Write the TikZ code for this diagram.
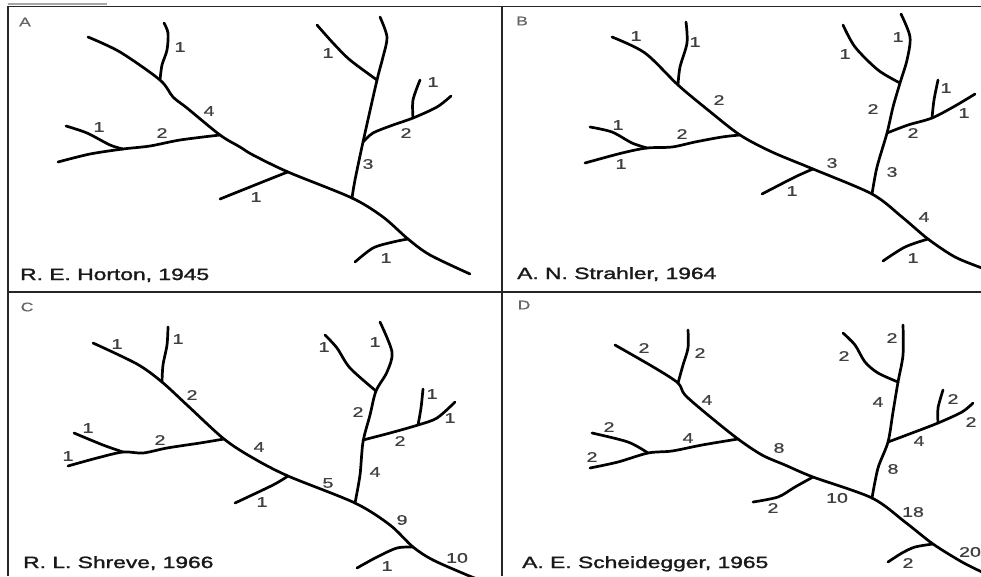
\documentclass[tikz,border=0pt]{standalone}
\usepackage{fontspec}
\setmainfont{Liberation Sans}
\newfontfamily\labfont[FakeBold=0.8]{Liberation Sans}
\newfontfamily\capfont[FakeBold=1.4]{Liberation Sans}
\usepackage{graphicx}
\newcommand\St[1]{\scalebox{1.4}[1]{#1}}
\begin{document}
\begin{tikzpicture}[x=1pt,y=-1pt,
  riv/.style={line width=2.7pt, line cap=round, line join=round, black},
  frm/.style={line width=1.4pt, black!85},
  lab/.style={inner sep=0pt, text=black!75, font=\labfont\fontsize{14}{14}\selectfont},
  capt/.style={inner sep=0pt, anchor=base west, text=black!90, font=\capfont\fontsize{16.3}{16.3}\selectfont},
  pan/.style={inner sep=0pt, text=black!60, font=\labfont\fontsize{12.5}{12.5}\selectfont}]
\useasboundingbox (0,0) rectangle (981,576);
\clip (0,0) rectangle (981,576);
% frame
\draw[black!35, line width=1.2pt] (8,4) -- (107,4);
\draw[frm] (8,576) -- (8,6.5) -- (981,6.5);
\draw[frm] (502,6.5) -- (502,576);
\draw[frm] (8,292) -- (981,292);
% ---------- Panel A ----------
\draw[riv] plot[smooth] coordinates {(88,37)(120,52)(160,80)(173,97)(187,108)(220,135)(240,147)(253,155)(288,172)(352,198)(383,217)(408,239)(430,255)(470,274)};
\draw[riv] plot[smooth] coordinates {(160,80)(162,65)(167,50)(168,33)(164,23)};
\draw[riv] plot[smooth] coordinates {(220,135)(180,140)(150,146)(123,149)(90,154)(58,162)};
\draw[riv] plot[smooth] coordinates {(123,149)(110,145)(87,133)(66,126)};
\draw[riv] plot[smooth] coordinates {(288,172)(280,175)(220,199)};
\draw[riv] plot[smooth] coordinates {(352,198)(355,180)(363,142)(377,80)(383,57)(387,37)(380,17)};
\draw[riv] plot[smooth] coordinates {(377,80)(350,60)(333,43)(317,25)};
\draw[riv] plot[smooth] coordinates {(363,142)(373,133)(393,125)(413,118)(437,107)(451,96)};
\draw[riv] plot[smooth] coordinates {(413,118)(413,100)(420,80)};
\draw[riv] plot[smooth] coordinates {(408,239)(393,242)(373,248)(355,262)};
\node[pan] (pA) at (25,22) {\St{A}};
\node[lab] (a1) at (180,47) {\St{1}};
\node[lab] (a2) at (209,111) {\St{4}};
\node[lab] (a3) at (99,127) {\St{1}};
\node[lab] (a4) at (162,133) {\St{2}};
\node[lab] (a5) at (256,197) {\St{1}};
\node[lab] (a6) at (328,53) {\St{1}};
\node[lab] (a7) at (433,82) {\St{1}};
\node[lab] (a8) at (406,133) {\St{2}};
\node[lab] (a9) at (368,164) {\St{3}};
\node[lab] (a10) at (386,258) {\St{1}};
\node[capt] (cA) at (20,280) {\St{R. E. Horton, 1945}};
% ---------- Panel B ----------
\draw[riv] plot[smooth] coordinates {(612,37)(645,53)(678,85)(708,110)(740,135)(772,152)(813,169)(872,194)(902,217)(928,239)(955,257)(982,268)};
\draw[riv] plot[smooth] coordinates {(678,85)(680,67)(687,43)(686,22)};
\draw[riv] plot[smooth] coordinates {(740,135)(722,137)(695,142)(672,147)(647,148)(622,153)(585,163)};
\draw[riv] plot[smooth] coordinates {(647,148)(632,143)(612,132)(590,127)};
\draw[riv] plot[smooth] coordinates {(813,169)(795,177)(762,194)};
\draw[riv] plot[smooth] coordinates {(872,194)(877,167)(887,133)(893,107)(900,83)(907,60)(910,37)(901,14)};
\draw[riv] plot[smooth] coordinates {(900,83)(878,70)(855,47)(843,25)};
\draw[riv] plot[smooth] coordinates {(887,133)(908,125)(932,118)(955,106)(975,94)};
\draw[riv] plot[smooth] coordinates {(932,118)(934,100)(938,80)};
\draw[riv] plot[smooth] coordinates {(928,239)(905,247)(883,261)};
\node[pan] (pB) at (522,21) {\St{B}};
\node[lab] (b1) at (636,36) {\St{1}};
\node[lab] (b2) at (695,42) {\St{1}};
\node[lab] (b3) at (719,100) {\St{2}};
\node[lab] (b4) at (618,125) {\St{1}};
\node[lab] (b5) at (682,134) {\St{2}};
\node[lab] (b6) at (621,164) {\St{1}};
\node[lab] (b7) at (832,163) {\St{3}};
\node[lab] (b8) at (792,191) {\St{1}};
\node[lab] (b9) at (845,54) {\St{1}};
\node[lab] (b10) at (898,37) {\St{1}};
\node[lab] (b11) at (873,109) {\St{2}};
\node[lab] (b12) at (946,88) {\St{1}};
\node[lab] (b13) at (964,113) {\St{1}};
\node[lab] (b14) at (913,133) {\St{2}};
\node[lab] (b15) at (892,172) {\St{3}};
\node[lab] (b16) at (924,217) {\St{4}};
\node[lab] (b17) at (913,258) {\St{1}};
\node[capt] (cB) at (517,279) {\St{A. N. Strahler, 1964}};
% ---------- Panel C ----------
\draw[riv] plot[smooth] coordinates {(93,343)(137,364)(162,382)(187,405)(224,439)(253,458)(288,476)(355,503)(390,525)(413,547)(433,560)(467,575)(480,580)};
\draw[riv] plot[smooth] coordinates {(162,382)(163,365)(167,345)(168,327)};
\draw[riv] plot[smooth] coordinates {(224,439)(200,443)(167,448)(143,453)(123,452)(97,458)(68,466)};
\draw[riv] plot[smooth] coordinates {(123,452)(103,445)(74,433)};
\draw[riv] plot[smooth] coordinates {(288,476)(273,485)(235,503)};
\draw[riv] plot[smooth] coordinates {(355,503)(360,475)(363,442)(370,415)(376,391)(387,372)(392,352)(380,322)};
\draw[riv] plot[smooth] coordinates {(376,391)(350,368)(337,348)(325,335)};
\draw[riv] plot[smooth] coordinates {(363,440)(390,433)(418,425)(437,418)(455,402)};
\draw[riv] plot[smooth] coordinates {(418,425)(421,408)(423,389)};
\draw[riv] plot[smooth] coordinates {(413,547)(397,548)(377,557)(357,568)};
\node[pan] (pC) at (27,307) {\St{C}};
\node[lab] (c1) at (117,344) {\St{1}};
\node[lab] (c2) at (178,339) {\St{1}};
\node[lab] (c3) at (192,395) {\St{2}};
\node[lab] (c4) at (88,428) {\St{1}};
\node[lab] (c5) at (160,440) {\St{2}};
\node[lab] (c6) at (68,456) {\St{1}};
\node[lab] (c7) at (259,447) {\St{4}};
\node[lab] (c8) at (262,502) {\St{1}};
\node[lab] (c9) at (328,483) {\St{5}};
\node[lab] (c10) at (324,347) {\St{1}};
\node[lab] (c11) at (375,342) {\St{1}};
\node[lab] (c12) at (358,412) {\St{2}};
\node[lab] (c13) at (432,394) {\St{1}};
\node[lab] (c14) at (450,418) {\St{1}};
\node[lab] (c15) at (400,441) {\St{2}};
\node[lab] (c16) at (375,472) {\St{4}};
\node[lab] (c17) at (402,520) {\St{9}};
\node[lab] (c18) at (457,558) {\St{10}};
\node[lab] (c19) at (387,566) {\St{1}};
\node[capt] (cC) at (23,568) {\St{R. L. Shreve, 1966}};
% ---------- Panel D ----------
\draw[riv] plot[smooth] coordinates {(615,345)(655,368)(678,383)(685,395)(708,415)(738,439)(762,455)(785,465)(813,477)(872,498)(905,522)(933,544)(962,562)(982,572)};
\draw[riv] plot[smooth] coordinates {(678,383)(683,365)(688,348)(688,330)};
\draw[riv] plot[smooth] coordinates {(738,439)(702,445)(672,451)(648,453)(618,462)(590,468)};
\draw[riv] plot[smooth] coordinates {(648,453)(628,442)(592,433)};
\draw[riv] plot[smooth] coordinates {(813,477)(795,487)(778,497)(753,502)};
\draw[riv] plot[smooth] coordinates {(872,498)(878,468)(888,442)(893,412)(898,382)(903,355)(903,325)};
\draw[riv] plot[smooth] coordinates {(898,382)(878,373)(865,362)(855,345)(843,333)};
\draw[riv] plot[smooth] coordinates {(888,442)(912,433)(938,423)(962,412)(973,403)};
\draw[riv] plot[smooth] coordinates {(938,423)(938,408)(943,390)};
\draw[riv] plot[smooth] coordinates {(933,544)(915,547)(902,553)(888,562)};
\node[pan] (pD) at (524,305) {\St{D}};
\node[lab] (d1) at (644,348) {\St{2}};
\node[lab] (d2) at (700,353) {\St{2}};
\node[lab] (d3) at (707,400) {\St{4}};
\node[lab] (d4) at (609,427) {\St{2}};
\node[lab] (d5) at (688,438) {\St{4}};
\node[lab] (d6) at (592,457) {\St{2}};
\node[lab] (d7) at (779,448) {\St{8}};
\node[lab] (d8) at (773,508) {\St{2}};
\node[lab] (d9) at (837,498) {\St{10}};
\node[lab] (d10) at (844,356) {\St{2}};
\node[lab] (d11) at (892,338) {\St{2}};
\node[lab] (d12) at (878,402) {\St{4}};
\node[lab] (d13) at (953,399) {\St{2}};
\node[lab] (d14) at (971,422) {\St{2}};
\node[lab] (d15) at (919,441) {\St{4}};
\node[lab] (d16) at (893,469) {\St{8}};
\node[lab] (d17) at (913,512) {\St{18}};
\node[lab] (d18) at (970,552) {\St{20}};
\node[lab] (d19) at (908,563) {\St{2}};
\node[capt] (cD) at (522,568) {\St{A. E. Scheidegger, 1965}};
\end{tikzpicture}
\end{document}
